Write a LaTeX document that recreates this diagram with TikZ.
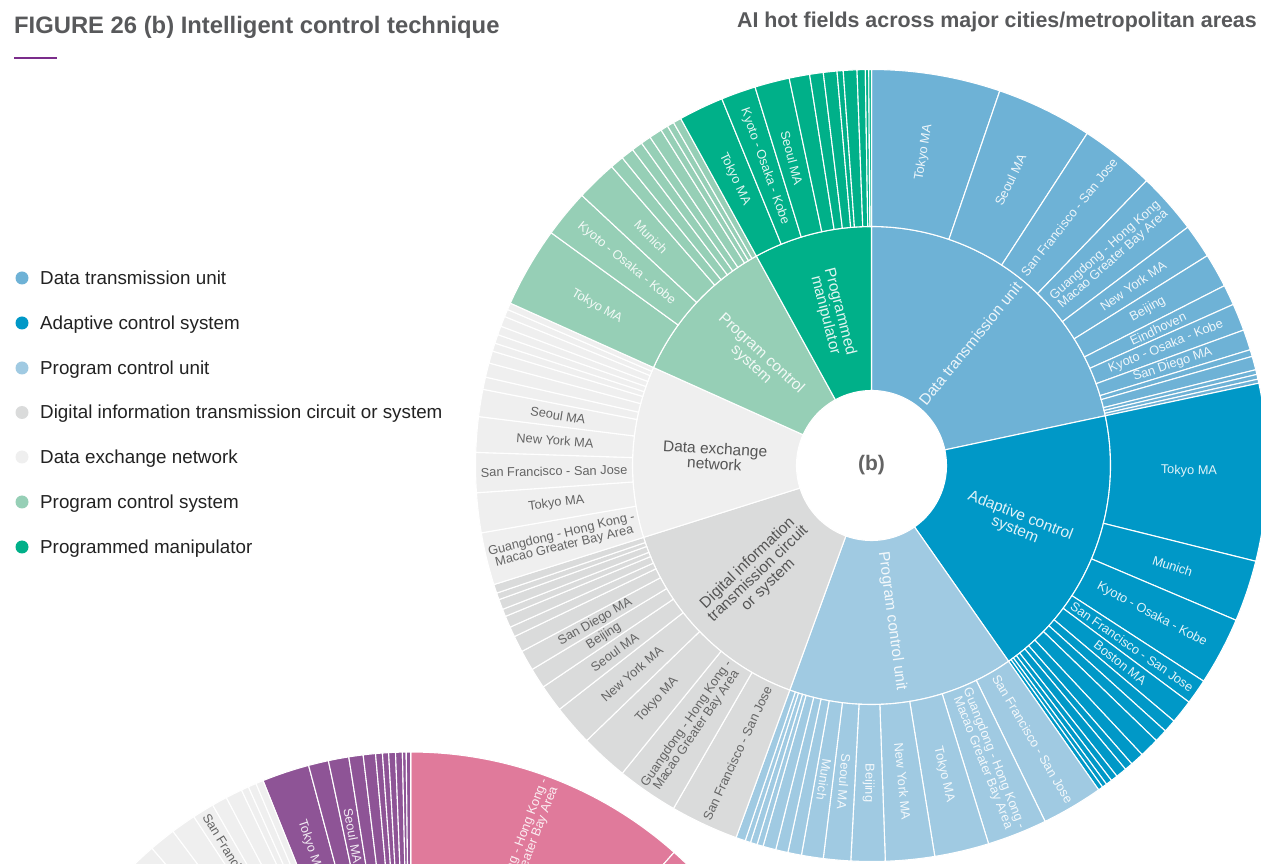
\documentclass[tikz,border=0pt]{standalone}
\usepackage{fontspec}
\setmainfont{Liberation Sans}
\usetikzlibrary{calc}
\definecolor{dtu}{HTML}{6EB2D6}
\definecolor{acs}{HTML}{0098C7}
\definecolor{pcu}{HTML}{A0CAE2}
\definecolor{ditc}{HTML}{DADBDB}
\definecolor{den}{HTML}{EFEFEF}
\definecolor{pcs}{HTML}{96CFB6}
\definecolor{pm}{HTML}{00B089}
\definecolor{pinkseg}{HTML}{E07A9B}
\definecolor{purpleseg}{HTML}{8E5496}
\definecolor{titlegray}{HTML}{58595B}
\definecolor{labgray}{HTML}{646464}
\definecolor{innergray}{HTML}{555555}
\definecolor{rulepurple}{HTML}{7B2D8B}
\definecolor{legendtext}{HTML}{222222}

\newcommand\annulus[5]{%
  \foreach \b [remember=\b as \a (initially #4)] in {#5}{%
    \fill[#1, draw=white, line width=1.1]
      ({90-\a}:#2) arc[start angle={90-\a}, end angle={90-\b}, radius=#2]
      -- ({90-\b}:#3) arc[start angle={90-\b}, end angle={90-\a}, radius=#3] -- cycle;
  }}

\newcounter{segl}
\newcommand\seglab[5][]{%
  \stepcounter{segl}%
  \pgfmathsetmacro\tm{(#2+#3)/2}%
  \pgfmathsetmacro\rot{\tm<195 ? 90-\tm : 270-\tm}%
  \node[seglbl,#1,rotate=\rot] (seg\arabic{segl}) at ({90-\tm}:#4) {#5};}

\tikzset{
  seglbl/.style={font=\fontsize{12.8}{12}\selectfont, text=white, text opacity=0.88, align=center, inner sep=0},
  graylbl/.style={text=labgray, text opacity=1},
  innerlbl/.style={font=\fontsize{15.5}{15}\selectfont},
  innergraylbl/.style={font=\fontsize{15.5}{15}\selectfont, text=innergray, text opacity=1},
  legdot/.style={circle, inner sep=0, minimum size=13},
  legtext/.style={anchor=base west, font=\fontsize{18.8}{22}\selectfont, text=legendtext, inner sep=0},
  titletext/.style={font=\bfseries\fontsize{23.8}{26}\selectfont, text=titlegray, inner sep=0}
}

\begin{document}
\begin{tikzpicture}[x=1pt,y=1pt]
\useasboundingbox (0,0) rectangle (1261,863);
\fill[white] (0,0) rectangle (1261,863);
\clip (0,0) rectangle (1261,863);

% titles
\node[titletext, anchor=base west] (title) at (14,829) {FIGURE 26 (b) Intelligent control technique};
\node[titletext, anchor=base east, font=\bfseries\fontsize{21.4}{24}\selectfont] (subtitle) at (1257,835) {AI hot fields across major cities/metropolitan areas};
\coordinate (ruleA) at (14,805);
\coordinate (ruleB) at (57,805);
\draw[rulepurple, line width=2.5] (ruleA) -- (ruleB);

% legend
\node[legdot, fill=dtu]  (d1) at (22,585) {};
\node[legtext] (t1) at (40,578.8) {Data transmission unit};
\node[legdot, fill=acs]  (d2) at (22,540) {};
\node[legtext] (t2) at (40,533.8) {Adaptive control system};
\node[legdot, fill=pcu]  (d3) at (22,495) {};
\node[legtext] (t3) at (40,488.8) {Program control unit};
\node[legdot, fill=ditc] (d4) at (22,450.5) {};
\node[legtext] (t4) at (40,444.3) {Digital information transmission circuit or system};
\node[legdot, fill=den]  (d5) at (22,406) {};
\node[legtext] (t5) at (40,399.8) {Data exchange network};
\node[legdot, fill=pcs]  (d6) at (22,361) {};
\node[legtext] (t6) at (40,354.8) {Program control system};
\node[legdot, fill=pm]   (d7) at (22,316) {};
\node[legtext] (t7) at (40,309.8) {Programmed manipulator};

% second (partial) sunburst
\begin{scope}[shift={(410.7,-285)}]
  \annulus{pinkseg}{239}{396}{0}{41.7,70}
  \annulus{purpleseg}{239}{396}{338.1}{345.06,348,351,353.1,354.9,355.9,356.8,357.8,358.8,359.35,360}
  \annulus{den}{239}{396}{290}{319.2,323.1,326.8,330,332.25,334.7,335.8,337,338.1}
  \seglab{0}{41.7}{317.5}{Guangdong - Hong Kong -\\Macao Greater Bay Area}
  \seglab{338.1}{345.06}{317.5}{Tokyo MA}
  \seglab{348}{351}{317.5}{Seoul MA}
  \seglab[graylbl]{326.8}{330}{317.5}{San Francisco - San Jose}
\end{scope}

% main sunburst
\begin{scope}[shift={(871.5,397.5)}]
  % inner ring
  \annulus{dtu}{75}{239}{0}{78}
  \annulus{acs}{75}{239}{78}{145}
  \annulus{pcu}{75}{239}{145}{200}
  \annulus{ditc}{75}{239}{200}{252.5}
  \annulus{den}{75}{239}{252.5}{294.2}
  \annulus{pcs}{75}{239}{294.2}{331.2}
  \annulus{pm}{75}{239}{331.2}{360}
  % outer ring
  \annulus{dtu}{239}{396}{0}{18.9,33,44,53,58,63,66,70,73,74,76,76.7,77.4,78}
  \annulus{acs}{239}{396}{78}{104,113,123,126.7,130.2,132.1,134,136.9,138.9,140.1,141.7,142.7,143.6,144.3,145}
  \annulus{pcu}{239}{396}{145}{154,162.8,170.8,178,183,187,190.2,192.2,194,195.9,196.8,197.8,198.6,200}
  \annulus{ditc}{239}{396}{200}{210,219,226,232,236,239,242,244.4,245.9,247.6,248.7,250.2,251.2,252.5}
  \annulus{den}{239}{396}{252.5}{260.2,266.05,271.9,277.1,281.1,282.9,285,286.8,288,289.3,290.6,292.1,293.2,294.2}
  \annulus{pcs}{239}{396}{294.2}{306,313,319,321,322.9,324.5,326,327.9,329,330,331.2}
  \annulus{pm}{239}{396}{331.2}{337.8,342.9,348,351,353,355,355.9,357.9,359.1,359.6,360}

  % centre label
  \node[font=\bfseries\fontsize{21}{24}\selectfont, text=labgray] (centre) at (0,0) {(b)};

  % inner labels
  \seglab[innerlbl]{0}{78}{157}{Data transmission unit}
  \seglab[innerlbl]{78}{145}{157}{Adaptive control\\system}
  \seglab[innerlbl]{145}{200}{157}{Program control unit}
  \seglab[innergraylbl]{200}{252.5}{157}{Digital information\\transmission circuit\\or system}
  \seglab[innergraylbl]{252.5}{294.2}{157}{Data exchange\\network}
  \seglab[innerlbl]{294.2}{331.2}{157}{Program control\\system}
  \seglab[innerlbl]{331.2}{360}{157}{Programmed\\manipulator}

  % outer labels: data transmission unit
  \seglab{0}{18.9}{317.5}{Tokyo MA}
  \seglab{18.9}{33}{317.5}{Seoul MA}
  \seglab{33}{44}{317.5}{San Francisco - San Jose}
  \seglab{44}{53}{317.5}{Guangdong - Hong Kong\\Macao Greater Bay Area}
  \seglab{53}{58}{317.5}{New York MA}
  \seglab{58}{63}{317.5}{Beijing}
  \seglab{63}{66}{317.5}{Eindhoven}
  \seglab{66}{70}{317.5}{Kyoto - Osaka - Kobe}
  \seglab{70}{73}{317.5}{San Diego MA}
  % adaptive control system
  \seglab{78}{104}{317.5}{Tokyo MA}
  \seglab{104}{113}{317.5}{Munich}
  \seglab{113}{123}{317.5}{Kyoto - Osaka - Kobe}
  \seglab{123}{126.7}{317.5}{San Francisco - San Jose}
  \seglab{126.7}{130.2}{317.5}{Boston MA}
  % program control unit
  \seglab{145}{154}{317.5}{San Francisco - San Jose}
  \seglab{154}{162.8}{317.5}{Guangdong - Hong Kong -\\Macao Greater Bay Area}
  \seglab{162.8}{170.8}{317.5}{Tokyo MA}
  \seglab{170.8}{178}{317.5}{New York MA}
  \seglab{178}{183}{317.5}{Beijing}
  \seglab{183}{187}{317.5}{Seoul MA}
  \seglab{187}{190.2}{317.5}{Munich}
  % digital information transmission circuit or system
  \seglab[graylbl]{200}{210}{317.5}{San Francisco - San Jose}
  \seglab[graylbl]{210}{219}{317.5}{Guangdong - Hong Kong -\\Macao Greater Bay Area}
  \seglab[graylbl]{219}{226}{317.5}{Tokyo MA}
  \seglab[graylbl]{226}{232}{317.5}{New York MA}
  \seglab[graylbl]{232}{236}{317.5}{Seoul MA}
  \seglab[graylbl]{236}{239}{317.5}{Beijing}
  \seglab[graylbl]{239}{242}{317.5}{San Diego MA}
  % data exchange network
  \seglab[graylbl]{252.5}{260.2}{317.5}{Guangdong - Hong Kong -\\Macao Greater Bay Area}
  \seglab[graylbl]{260.2}{266.05}{317.5}{Tokyo MA}
  \seglab[graylbl]{266.05}{271.9}{317.5}{San Francisco - San Jose}
  \seglab[graylbl]{271.9}{277.1}{317.5}{New York MA}
  \seglab[graylbl]{277.1}{281.1}{317.5}{Seoul MA}
  % program control system
  \seglab{294.2}{306}{317.5}{Tokyo MA}
  \seglab{306}{313}{317.5}{Kyoto - Osaka - Kobe}
  \seglab{313}{319}{317.5}{Munich}
  % programmed manipulator
  \seglab{331.2}{337.8}{317.5}{Tokyo MA}
  \seglab{337.8}{342.9}{317.5}{Kyoto - Osaka - Kobe}
  \seglab{342.9}{348}{317.5}{Seoul MA}
\end{scope}
\end{tikzpicture}
\end{document}
